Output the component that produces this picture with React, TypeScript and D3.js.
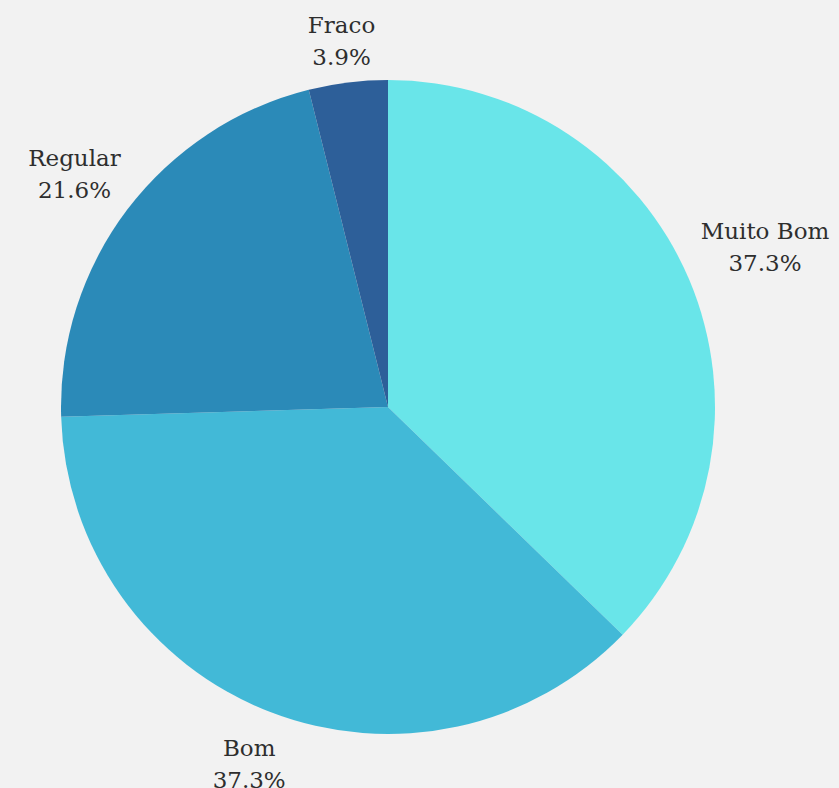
import React from "react";
import * as d3 from "d3";

const categories = ["Muito Bom", "Bom", "Regular", "Fraco"];
const values = [37.3, 37.3, 21.6, 3.9];
const colors = ["#69e5e9", "#42b9d7", "#2b8ab8", "#2d5f99"];

const W = 839;
const H = 788;
const cx = 388;
const cy = 407;
const R = 327;
const LR = 342;
const LINE = 32;
const FONT = "23px 'DejaVu Serif'";

function measure(s: string): number {
  const c = document.createElement("canvas").getContext("2d");
  if (!c) return s.length * 13;
  c.font = FONT;
  return c.measureText(s).width;
}

export default function App() {
  const pie = d3.pie<number>().sort(null).value((d) => d)(values);
  const arc = d3.arc<d3.PieArcDatum<number>>().innerRadius(0).outerRadius(R);
  const labelArc = d3.arc<d3.PieArcDatum<number>>().innerRadius(LR).outerRadius(LR);
  return (
    <div style={{ position: "fixed", left: 0, top: 0 }}>
      <svg width={W} height={H} style={{ display: "block" }}>
        <rect width={W} height={H} fill="#f2f2f2" />
        <g transform={`translate(${cx},${cy})`}>
          {pie.map((p, i) => (
            <path key={i} d={arc(p) || ""} fill={colors[i]} />
          ))}
          {pie.map((p, i) => {
            const [x, y] = labelArc.centroid(p);
            const l1 = categories[i];
            const l2 = values[i].toFixed(1) + "%";
            const bw = Math.max(measure(l1), measure(l2));
            const tx = x + (x / LR) * bw / 2 + (x > 0 ? 3 : -5) * Math.abs(x / LR);
            const y1 = y < 0 ? y - 3 - LINE : y + 30;
            return (
              <text
                key={"l" + i}
                x={tx}
                y={y1}
                textAnchor="middle"
                fontFamily="DejaVu Serif"
                fontSize={23}
                fill="#2e2e2e"
              >
                <tspan x={tx}>{l1}</tspan>
                <tspan x={tx} dy={LINE}>
                  {l2}
                </tspan>
              </text>
            );
          })}
        </g>
      </svg>
    </div>
  );
}
